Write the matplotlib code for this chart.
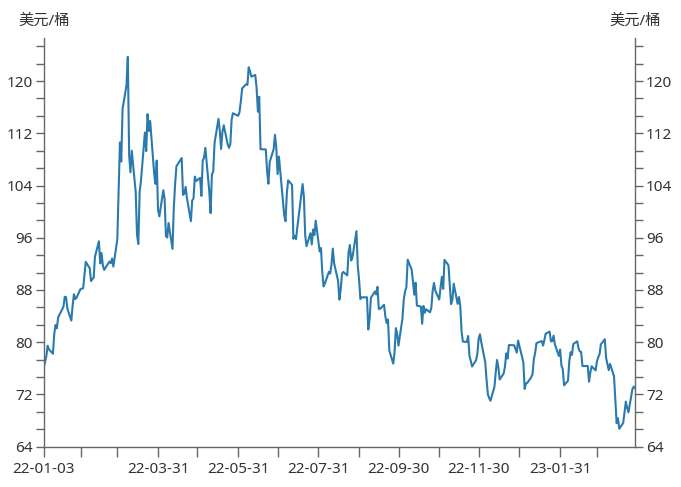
import pandas as pd
import numpy as np
import matplotlib.pyplot as plt
import matplotlib.dates as mdates
from matplotlib.ticker import MultipleLocator

plt.rcParams['font.family'] = ['Noto Sans', 'Noto Sans CJK SC', 'DejaVu Sans']

# Trading calendar (NYMEX closed days)
start_date = '2022-01-03'
end_date = '2023-03-29'
holidays = ['2022-01-17', '2022-02-21', '2022-04-15', '2022-05-30', '2022-06-20',
            '2022-07-04', '2022-09-05', '2022-11-24', '2022-12-26',
            '2023-01-02', '2023-01-16', '2023-02-20']

# Daily close, USD/barrel
prices = [
    # 2022-01
    76.08, 76.99, 77.85, 79.46, 78.90, 78.23, 81.22, 82.64, 82.12, 83.82,
    85.43, 86.96, 86.90, 85.14, 83.31, 85.60, 87.35, 86.61, 86.82, 88.15,
    # 2022-02
    88.20, 88.26, 90.27, 92.31, 91.32, 89.36, 89.66, 89.88, 93.10, 95.46,
    92.07, 93.66, 91.76, 91.07, 92.35, 92.10, 92.81, 91.59, 95.72,
    # 2022-03
    103.41, 110.60, 107.67, 115.68, 119.40, 123.70, 108.70, 106.02, 109.33, 103.01,
    96.44, 95.04, 102.98, 104.70, 112.12, 109.27, 114.93, 112.34, 113.90, 105.96,
    104.24, 107.82, 100.28,
    # 2022-04
    99.27, 103.28, 101.96, 96.23, 96.03, 98.26, 94.29, 100.60, 104.25, 106.95,
    108.21, 102.56, 102.75, 103.79, 102.07, 98.54, 101.70, 102.02, 105.36, 104.69,
    # 2022-05
    105.17, 102.41, 107.81, 108.26, 109.77, 103.09, 99.76, 105.71, 106.13, 110.49,
    114.20, 112.40, 109.59, 112.21, 113.23, 110.29, 109.77, 110.33, 114.09, 115.07,
    114.67,
    # 2022-06
    115.26, 116.87, 118.87, 119.50, 119.41, 122.11, 121.51, 120.67, 120.93, 118.93,
    115.31, 117.59, 109.56, 109.52, 106.19, 104.27, 107.62, 109.57, 111.76, 109.78,
    105.76,
    # 2022-07
    108.43, 99.50, 98.53, 102.73, 104.79, 104.09, 95.84, 96.30, 95.78, 97.59,
    102.60, 104.22, 102.26, 96.35, 94.70, 96.70, 94.98, 97.26, 96.42, 98.62,
    # 2022-08
    93.89, 94.42, 90.66, 88.54, 89.01, 90.76, 90.50, 91.93, 94.34, 92.09,
    89.41, 86.53, 88.11, 90.50, 90.77, 90.23, 93.74, 94.89, 92.52, 93.06,
    97.01, 91.64, 89.55,
    # 2022-09
    86.61, 86.87, 86.88, 81.94, 83.54, 86.79, 87.78, 87.31, 88.48, 85.10,
    85.11, 85.73, 83.94, 82.94, 83.49, 78.74, 76.71, 78.50, 82.15, 81.23,
    79.49,
    # 2022-10
    83.63, 86.52, 87.76, 88.45, 92.64, 91.13, 89.35, 87.27, 89.11, 85.61,
    85.46, 82.82, 85.55, 84.51, 85.05, 84.58, 85.32, 87.91, 89.08, 87.90,
    86.53,
    # 2022-11
    88.37, 90.00, 88.17, 92.61, 91.79, 88.91, 85.83, 86.47, 88.96, 85.87,
    86.92, 85.59, 81.64, 80.08, 80.04, 80.95, 77.94, 76.28, 77.24, 78.20,
    80.55,
    # 2022-12
    81.22, 79.98, 76.93, 74.25, 72.01, 71.46, 71.02, 73.17, 75.39, 77.28,
    76.11, 74.29, 75.19, 76.23, 78.29, 77.49, 79.56, 79.53, 78.96, 78.40,
    80.26,
    # 2023-01
    76.93, 72.84, 73.67, 73.77, 74.63, 75.12, 77.41, 78.39, 79.86, 80.18,
    79.48, 80.33, 81.31, 81.62, 80.13, 80.15, 81.01, 79.68, 77.90, 78.87,
    # 2023-02
    76.41, 75.88, 73.39, 74.11, 77.14, 78.47, 78.06, 79.72, 80.14, 79.06,
    78.59, 78.49, 76.34, 76.36, 73.95, 75.39, 76.32, 75.68, 77.05,
    # 2023-03
    77.69, 78.16, 79.68, 80.46, 77.58, 76.66, 75.72, 76.68, 74.80, 71.33,
    67.61, 68.35, 66.74, 67.64, 69.33, 70.90, 69.96, 69.26, 72.81, 73.20,
    72.97,
]

tick_dates = ['2022-01-03', '2022-03-31', '2022-05-31', '2022-07-31',
              '2022-09-30', '2022-11-30', '2023-01-31']
tick_labels = ['22-01-03', '22-03-31', '22-05-31', '22-07-31',
               '22-09-30', '22-11-30', '23-01-31']
unit_label = '美元/桶'

dates = pd.bdate_range(start_date, end_date, freq='C', holidays=holidays)
df = pd.DataFrame({'date': dates, 'price': prices})

fig = plt.figure(figsize=(6.81, 4.87), dpi=100)
ax = fig.add_axes([0.0642, 0.0828, 0.8683, 0.8393])

ax.plot(df['date'], df['price'], color='#2a7aad', linewidth=1.5)

ax.set_xlim(df['date'].iloc[0], df['date'].iloc[-1])
ax.set_ylim(64, 126.6)

axis_col = '#666666'
text_col = '#333333'

ax.set_xticks(pd.to_datetime(tick_dates))
ax.set_xticklabels(tick_labels)
month_ends = pd.date_range('2022-01-31', '2023-02-28', freq='ME')
ax.set_xticks(month_ends, minor=True)

ax.yaxis.set_major_locator(MultipleLocator(8))
ax.yaxis.set_minor_locator(MultipleLocator(8 / 3))

ax.spines['top'].set_visible(False)
for s in ['left', 'right', 'bottom']:
    ax.spines[s].set_color(axis_col)
    ax.spines[s].set_linewidth(1)

ax.tick_params(axis='both', which='both', colors=axis_col, labelcolor=text_col,
               labelsize=11, length=6, width=1)
ax.tick_params(axis='x', which='both', length=7, pad=4)
ax.tick_params(axis='y', which='both', left=True, right=True,
               labelleft=True, labelright=True, pad=2)

fig.text(0.0642, 0.957, unit_label, ha='center', va='center',
         fontsize=11, color=text_col)
fig.text(0.9325, 0.957, unit_label, ha='center', va='center',
         fontsize=11, color=text_col)

plt.savefig('out.png', dpi=100)
plt.close()
